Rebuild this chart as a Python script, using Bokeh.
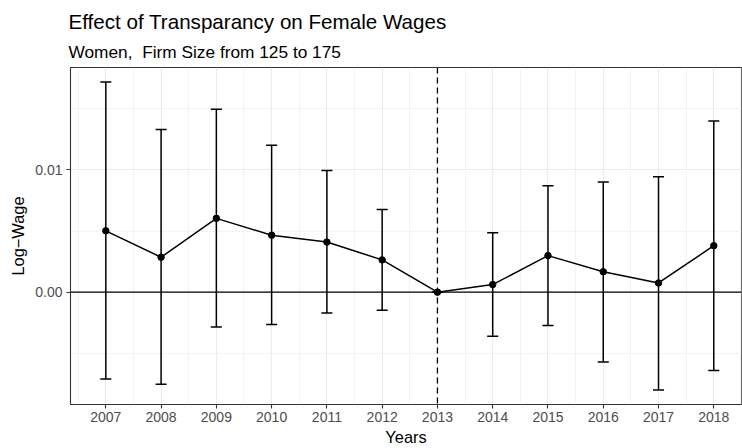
from bokeh.plotting import figure
from bokeh.models import Range1d, FixedTicker, Span, Title, ColumnDataSource, NumeralTickFormatter
from bokeh.transform import dodge
from bokeh.embed import file_html
from bokeh.resources import INLINE

# ---- data ----
years = [2007, 2008, 2009, 2010, 2011, 2012, 2013, 2014, 2015, 2016, 2017, 2018]
estimates = [0.00502, 0.00286, 0.00604, 0.00466, 0.00410, 0.00264, 0.0, 0.00062, 0.00299, 0.00167, 0.00075, 0.00380]
ci_upper = [0.01720, 0.01332, 0.01497, 0.01202, 0.00995, 0.00677, 0.0, 0.00486, 0.00870, 0.00902, 0.00945, 0.01400]
ci_lower = [-0.00712, -0.00755, -0.00286, -0.00265, -0.00170, -0.00149, 0.0, -0.00362, -0.00273, -0.00572, -0.00801, -0.00642]
y_ticks = [0.0, 0.01]
y_minor_ticks = [-0.005, 0.005, 0.015]
event_year = 2013
title_text = "Effect of Transparancy on Female Wages"
subtitle_text = "Women,\u00a0 Firm Size from 125 to 175"
x_title = "Years"
y_title = "Log\u2212Wage"

FONT = "Liberation Sans"

# ---- layout ----
W, H = 742, 448
ML, MR, MT, MB = 70, 1, 67, 40
frame_w = W - ML - MR
frame_h = H - MT - MB
px_per_year = 55.27
X0 = 2006.361
X1 = X0 + frame_w / px_per_year
px_per_unit = 12360.0
Y0 = -113.7 / px_per_unit
Y1 = Y0 + frame_h / px_per_unit

p = figure(width=W, height=H, x_range=Range1d(X0, X1), y_range=Range1d(Y0, Y1),
           output_backend="svg", toolbar_location=None, title=None,
           min_border_left=ML, min_border_right=MR, min_border_top=MT, min_border_bottom=MB,
           background_fill_color="white", border_fill_color="white",
           outline_line_color="#333333", outline_line_width=1.1)

xt = FixedTicker(ticks=years, minor_ticks=[y + 0.5 for y in range(years[0] - 1, years[-1] + 1)])
yt = FixedTicker(ticks=y_ticks, minor_ticks=y_minor_ticks)
p.xaxis.ticker = xt
p.yaxis.ticker = yt
p.xgrid.ticker = xt
p.ygrid.ticker = yt
p.xaxis.formatter = NumeralTickFormatter(format="0")
p.yaxis.formatter = NumeralTickFormatter(format="0.00")

for ax in (p.xaxis, p.yaxis):
    ax.axis_line_color = None
    ax.major_tick_in = 0
    ax.major_tick_out = 4
    ax.major_tick_line_color = "#333333"
    ax.major_tick_line_width = 1.1
    ax.minor_tick_in = 0
    ax.minor_tick_out = 0
    ax.major_label_text_font = FONT
    ax.major_label_text_font_size = "14px"
    ax.major_label_text_color = "#4D4D4D"
    ax.axis_label_text_font = FONT
    ax.axis_label_text_font_size = "16.4px"
    ax.axis_label_text_font_style = "normal"
    ax.axis_label_text_color = "black"

p.xaxis.axis_label = x_title
p.yaxis.axis_label = y_title
p.xaxis.major_label_standoff = 3
p.xaxis.axis_label_standoff = 3
p.yaxis.major_label_standoff = 4
p.yaxis.axis_label_standoff = 5

for g in (p.xgrid, p.ygrid):
    g.grid_line_color = "#EBEBEB"
    g.grid_line_width = 1.1
    g.minor_grid_line_color = "#EBEBEB"
    g.minor_grid_line_width = 0.6

p.add_layout(Span(location=0, dimension="width", line_color="black", line_width=1.3))
p.add_layout(Span(location=event_year, dimension="height", line_color="black",
                  line_width=1.3, line_dash="6 4"))

src = ColumnDataSource(dict(year=years, est=estimates, lo=ci_lower, hi=ci_upper))
p.line("year", "est", source=src, line_color="black", line_width=1.5)
p.segment(x0="year", y0="lo", x1="year", y1="hi", source=src, line_color="black", line_width=1.5)
p.segment(x0=dodge("year", -0.1), y0="lo", x1=dodge("year", 0.1), y1="lo", source=src,
          line_color="black", line_width=1.5)
p.segment(x0=dodge("year", -0.1), y0="hi", x1=dodge("year", 0.1), y1="hi", source=src,
          line_color="black", line_width=1.5)
p.scatter("year", "est", source=src, size=6.5, color="black")

p.add_layout(Title(text=subtitle_text, text_font=FONT, text_font_size="17.3px",
                   text_font_style="normal", text_color="black", align="left",
                   standoff=11, offset=-2), "above")
p.add_layout(Title(text=title_text, text_font=FONT, text_font_size="20.6px",
                   text_font_style="normal", text_color="black", align="left",
                   standoff=4, offset=-2), "above")

open("out.html", "w").write(file_html(p, INLINE))
